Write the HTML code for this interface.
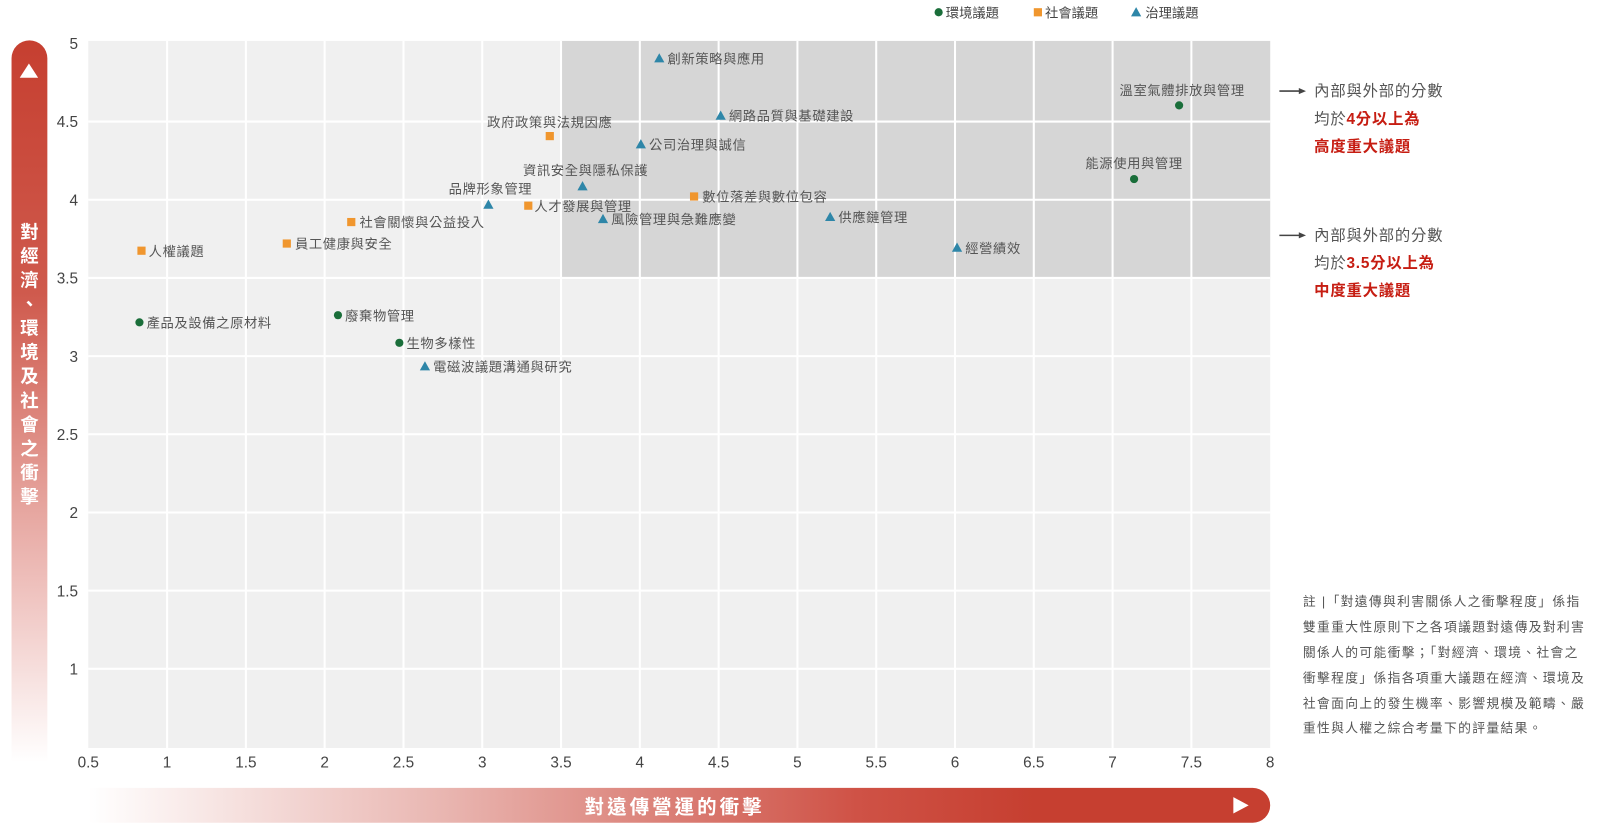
<!DOCTYPE html>
<html><head><meta charset="utf-8"><style>
html,body{margin:0;padding:0;background:#fff;}
svg{display:block;}
text{font-family:"Liberation Sans","Noto Sans CJK TC",sans-serif;}
</style></head><body>
<svg width="1602" height="835" viewBox="0 0 1565 816" xmlns="http://www.w3.org/2000/svg">
<defs>
<linearGradient id="gv" x1="0" y1="0" x2="0" y2="1">
<stop offset="0" stop-color="#c63f30"/><stop offset="0.35" stop-color="#cf5a4d"/><stop offset="0.75" stop-color="#eebfbb"/><stop offset="1" stop-color="#fff"/></linearGradient>
<linearGradient id="gh" x1="0" y1="0" x2="1" y2="0">
<stop offset="0" stop-color="#fff"/><stop offset="0.3" stop-color="#e9b6b1"/><stop offset="0.65" stop-color="#cf5246"/><stop offset="0.8" stop-color="#c63f30"/><stop offset="1" stop-color="#c63f30"/></linearGradient>
</defs>
<rect x="86" y="40" width="1155" height="691" fill="#f0f0f0"/>
<rect x="548" y="40" width="693" height="232" fill="#d6d6d6"/>
<g stroke="#fff" stroke-width="2">
<line x1="163" y1="40" x2="163" y2="731"/><line x1="240" y1="40" x2="240" y2="731"/><line x1="317" y1="40" x2="317" y2="731"/><line x1="394" y1="40" x2="394" y2="731"/><line x1="471" y1="40" x2="471" y2="731"/><line x1="548" y1="40" x2="548" y2="731"/><line x1="625" y1="40" x2="625" y2="731"/><line x1="702" y1="40" x2="702" y2="731"/><line x1="779" y1="40" x2="779" y2="731"/><line x1="856" y1="40" x2="856" y2="731"/><line x1="933" y1="40" x2="933" y2="731"/><line x1="1010" y1="40" x2="1010" y2="731"/><line x1="1087" y1="40" x2="1087" y2="731"/><line x1="1164" y1="40" x2="1164" y2="731"/>
<line x1="86" y1="118.8" x2="1241" y2="118.8"/><line x1="86" y1="195.2" x2="1241" y2="195.2"/><line x1="86" y1="271.6" x2="1241" y2="271.6"/><line x1="86" y1="348" x2="1241" y2="348"/><line x1="86" y1="424.4" x2="1241" y2="424.4"/><line x1="86" y1="500.8" x2="1241" y2="500.8"/><line x1="86" y1="577.2" x2="1241" y2="577.2"/><line x1="86" y1="653.6" x2="1241" y2="653.6"/>
</g>
<g font-size="15" fill="#444" text-anchor="end">
<text x="76" y="48">5</text><text x="76" y="124">4.5</text><text x="76" y="201">4</text><text x="76" y="277">3.5</text><text x="76" y="354">3</text><text x="76" y="430">2.5</text><text x="76" y="506">2</text><text x="76" y="583">1.5</text><text x="76" y="659">1</text>
</g>
<g font-size="15" fill="#444" text-anchor="middle">
<text x="86" y="750">0.5</text><text x="163" y="750">1</text><text x="240" y="750">1.5</text><text x="317" y="750">2</text><text x="394" y="750">2.5</text><text x="471" y="750">3</text><text x="548" y="750">3.5</text><text x="625" y="750">4</text><text x="702" y="750">4.5</text><text x="779" y="750">5</text><text x="856" y="750">5.5</text><text x="933" y="750">6</text><text x="1010" y="750">6.5</text><text x="1087" y="750">7</text><text x="1164" y="750">7.5</text><text x="1241" y="750">8</text>
</g>
<circle cx="917" cy="12" r="4" fill="#1a6e3a"/><text x="924" y="17" font-size="13" fill="#444">環境議題</text>
<rect x="1010" y="8" width="8" height="8" fill="#f0962e"/><text x="1021" y="17" font-size="13" fill="#444">社會議題</text>
<polygon points="1110,7 1115,16 1105,16" fill="#2e86a8"/><text x="1119" y="17" font-size="13" fill="#444">治理議題</text>
<g fill="#2e86a8">
<polygon points="644,52 649,61 639,61"/><polygon points="704,108 709,117 699,117"/><polygon points="626,136 631,145 621,145"/><polygon points="569,177 574,186 564,186"/><polygon points="477,195 482,204 472,204"/><polygon points="589,209 594,218 584,218"/><polygon points="811,207 816,216 806,216"/><polygon points="935,237 940,246 930,246"/><polygon points="415,353 420,362 410,362"/>
</g>
<g fill="#f0962e">
<rect x="533" y="129" width="8" height="8"/><rect x="512" y="197" width="8" height="8"/><rect x="674" y="188" width="8" height="8"/><rect x="339" y="213" width="8" height="8"/><rect x="276" y="234" width="8" height="8"/><rect x="134" y="241" width="8" height="8"/>
</g>
<g fill="#1a6e3a">
<circle cx="1152" cy="103" r="4"/><circle cx="1108" cy="175" r="4"/><circle cx="136" cy="315" r="4"/><circle cx="330" cy="308" r="4"/><circle cx="390" cy="335" r="4"/>
</g>
<g font-size="13" fill="#555" letter-spacing="0.6">
<text x="652" y="62">創新策略與應用</text>
<text x="712" y="118">網路品質與基礎建設</text>
<text x="634" y="146">公司治理與誠信</text>
<text x="572" y="171" text-anchor="middle">資訊安全與隱私保護</text>
<text x="479" y="189" text-anchor="middle">品牌形象管理</text>
<text x="537" y="124" text-anchor="middle">政府政策與法規因應</text>
<text x="522" y="206">人才發展與管理</text>
<text x="597" y="219">風險管理與急難應變</text>
<text x="686" y="197">數位落差與數位包容</text>
<text x="819" y="217">供應鏈管理</text>
<text x="943" y="247">經營績效</text>
<text x="1155" y="93" text-anchor="middle">溫室氣體排放與管理</text>
<text x="1108" y="164" text-anchor="middle">能源使用與管理</text>
<text x="351" y="222">社會關懷與公益投入</text>
<text x="288" y="243">員工健康與安全</text>
<text x="145" y="250">人權議題</text>
<text x="143" y="320">產品及設備之原材料</text>
<text x="337" y="313">廢棄物管理</text>
<text x="397" y="340">生物多樣性</text>
<text x="423" y="363">電磁波議題溝通與研究</text>
</g>
<g stroke="#444" stroke-width="1.5"><line x1="1250" y1="89" x2="1270" y2="89"/><line x1="1250" y1="230" x2="1270" y2="230"/></g>
<polygon points="1276,89 1269,86 1269,92" fill="#444"/><polygon points="1276,230 1269,227 1269,233" fill="#444"/>
<g font-size="15" letter-spacing="0.8">
<text x="1284" y="94" fill="#555">內部與外部的分數</text>
<text x="1284" y="121" fill="#555">均於<tspan fill="#c61d12" font-weight="bold">4分以上為</tspan></text>
<text x="1284" y="148" fill="#c61d12" font-weight="bold">高度重大議題</text>
<text x="1284" y="235" fill="#555">內部與外部的分數</text>
<text x="1284" y="262" fill="#555">均於<tspan fill="#c61d12" font-weight="bold">3.5分以上為</tspan></text>
<text x="1284" y="289" fill="#c61d12" font-weight="bold">中度重大議題</text>
</g>
<g font-size="12.5" fill="#555" letter-spacing="1.3">
<text x="1273" y="592">註 |「對遠傳與利害關係人之衝擊程度」係指</text>
<text x="1273" y="617">雙重重大性原則下之各項議題對遠傳及對利害</text>
<text x="1273" y="642">關係人的可能衝擊；「對經濟、環境、社會之</text>
<text x="1273" y="667">衝擊程度」係指各項重大議題在經濟、環境及</text>
<text x="1273" y="692">社會面向上的發生機率、影響規模及範疇、嚴</text>
<text x="1273" y="716">重性與人權之綜合考量下的評量結果。</text>
</g>
<path d="M11,57 A17.5,17.5 0 0 1 46,57 L46,745 L11,745 Z" fill="url(#gv)"/>
<polygon points="28,62 37,76 19,76" fill="#fff"/>
<g font-size="18" font-weight="bold" fill="#fff" text-anchor="middle">
<text x="28.5" y="233">對</text><text x="28.5" y="256.5">經</text><text x="28.5" y="280">濟</text><text x="28.5" y="303.5">、</text><text x="28.5" y="327">環</text><text x="28.5" y="350.5">境</text><text x="28.5" y="374">及</text><text x="28.5" y="397.5">社</text><text x="28.5" y="421">會</text><text x="28.5" y="444.5">之</text><text x="28.5" y="468">衝</text><text x="28.5" y="491.5">擊</text>
</g>
<path d="M86,770 L1224,770 A17,17 0 0 1 1224,804 L86,804 Z" fill="url(#gh)"/>
<polygon points="1205,779 1220,787 1205,795" fill="#fff"/>
<text x="659" y="795" font-size="19" font-weight="bold" fill="#fff" text-anchor="middle" letter-spacing="3">對遠傳營運的衝擊</text>
</svg>
</body></html>
